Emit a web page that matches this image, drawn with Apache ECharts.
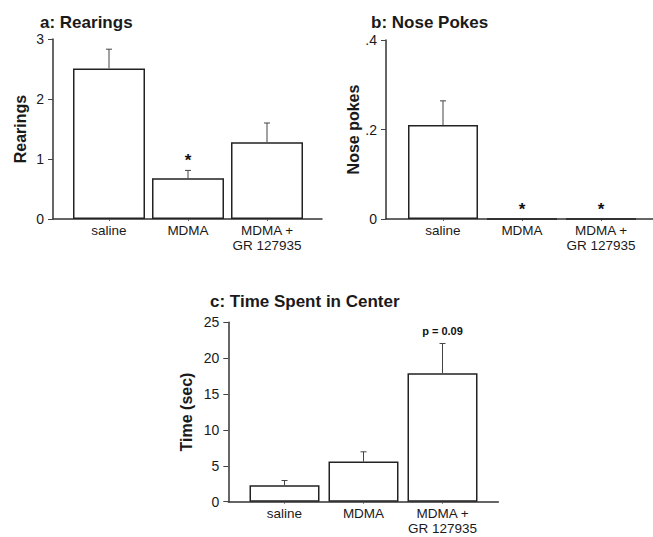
<!DOCTYPE html>
<html>
<head>
<meta charset="utf-8">
<script src="https://cdn.jsdelivr.net/npm/echarts@6/dist/echarts.min.js"></script>
<style>
html,body{margin:0;padding:0;background:#fff;}
#c{width:653px;height:537px;}
</style>
</head>
<body>
<div id="c"></div>
<script>
// ---- data ----
const categories = ['saline', 'MDMA', 'MDMA +\nGR 127935'];

const rearingsMean = [2.51, 0.68, 1.28];
const rearingsErr = [0.32, 0.13, 0.32];
const rearingsMarks = ['', '*', ''];
const rearingsTicks = [0, 1, 2, 3];

const nosePokesMean = [0.21, 0, 0];
const nosePokesErr = [0.054, 0, 0];
const nosePokesMarks = ['', '*', '*'];
const nosePokesTicks = [0, 0.2, 0.4];

const timeMean = [2.3, 5.6, 17.9];
const timeErr = [0.65, 1.35, 4.15];
const timeMarks = ['', '', 'p = 0.09'];
const timeTicks = [0, 5, 10, 15, 20, 25];

// ---- layout ----
const W = 653, H = 537;
const panels = [
  { title: 'a: Rearings', titleLeft: 35, titleTop: 9, axisX: 53, firstCenter: 109, top: 39, base: 219, lineEnd: 322,
    mean: rearingsMean, err: rearingsErr, marks: rearingsMarks, ticks: rearingsTicks, name: 'Rearings', nameGap: 25,
    fmt: v => String(v), barWidth: 72 },
  { title: 'b: Nose Pokes', titleLeft: 366, titleTop: 9, axisX: 386, firstCenter: 443, top: 40, base: 219, lineEnd: 653,
    mean: nosePokesMean, err: nosePokesErr, marks: nosePokesMarks, ticks: nosePokesTicks, name: 'Nose pokes', nameGap: 25,
    fmt: v => (v === 0 ? '0' : String(v).replace(/^0/, '')), barWidth: 70 },
  { title: 'c: Time Spent in Center', titleLeft: 205, titleTop: 288, axisX: 228.3, firstCenter: 284.5, top: 322.3, base: 501.7, lineEnd: 498.3,
    mean: timeMean, err: timeErr, marks: timeMarks, ticks: timeTicks, name: 'Time (sec)', nameGap: 34,
    fmt: v => String(v), barWidth: 70 }
];
const band = 79;

const option = { animation: false, backgroundColor: '#fff', title: [], grid: [], xAxis: [], yAxis: [], series: [] };
const txt = '#1a1a1a';
const ff = '"Liberation Sans", Arial, sans-serif';

panels.forEach((p, i) => {
  const barLeft = p.firstCenter - band / 2;
  const barRight = barLeft + band * 3;
  const gBar = i * 2, gFrame = i * 2 + 1;
  option.title.push({ text: p.title, left: p.titleLeft, top: p.titleTop,
    textStyle: { fontFamily: ff, fontWeight: 'bold', fontSize: 17, color: txt } });
  // bar grid
  option.grid.push({ left: barLeft, right: W - barRight, top: p.top, bottom: H - p.base, containLabel: false });
  // frame grid (for the baseline extending beyond bars)
  option.grid.push({ left: p.axisX, right: W - p.lineEnd, top: p.top, bottom: H - p.base, containLabel: false });
  const maxV = p.ticks[p.ticks.length - 1];
  option.xAxis.push({
    type: 'category', gridIndex: gBar, data: categories,
    axisLine: { show: false },
    axisTick: { show: true, alignWithLabel: true, length: 2, lineStyle: { color: '#555', width: 1 } },
    axisLabel: { color: txt, fontFamily: ff, fontSize: 13.5, margin: 4, lineHeight: 15, interval: 0 },
    splitLine: { show: false }
  });
  option.xAxis.push({
    type: 'value', gridIndex: gFrame, min: 0, max: 1,
    axisLine: { show: true, onZero: false, lineStyle: { color: '#333', width: 1.5 } },
    axisTick: { show: false }, axisLabel: { show: false }, splitLine: { show: false }
  });
  option.yAxis.push({
    type: 'value', gridIndex: gBar, min: 0, max: maxV, interval: p.ticks[1] - p.ticks[0],
    offset: barLeft - p.axisX,
    name: p.name, nameLocation: 'middle', nameGap: p.nameGap, nameRotate: 90,
    nameTextStyle: { fontFamily: ff, fontWeight: 'bold', fontSize: 16, color: txt },
    axisLine: { show: true, lineStyle: { color: '#333', width: 1.5 } },
    axisTick: { show: true, length: 5, lineStyle: { color: '#444', width: 1 } },
    axisLabel: { color: txt, fontFamily: ff, fontSize: 14, margin: 9, formatter: p.fmt },
    splitLine: { show: false }
  });
  option.yAxis.push({ type: 'value', gridIndex: gFrame, min: 0, max: 1, show: false });

  option.series.push({
    type: 'bar', xAxisIndex: gBar, yAxisIndex: gBar, data: p.mean, barWidth: p.barWidth,
    itemStyle: { color: '#fff', borderColor: '#222', borderWidth: 1.5 }, z: 2
  });
  const errData = p.mean.map((m, k) => [k, m, m + p.err[k]]);
  const marks = p.marks;
  const isP = (s) => s.length > 1;
  option.series.push({
    type: 'custom', xAxisIndex: gBar, yAxisIndex: gBar, data: errData, z: 5,
    encode: { x: 0, y: [1, 2] },
    renderItem: function (params, api) {
      const lo = api.coord([api.value(0), api.value(1)]);
      const hi = api.coord([api.value(0), api.value(2)]);
      const children = [];
      if (hi[1] < lo[1] - 0.5) {
        children.push({ type: 'line', shape: { x1: lo[0], y1: lo[1], x2: hi[0], y2: hi[1] }, style: { stroke: '#444', lineWidth: 1 } });
        children.push({ type: 'line', shape: { x1: hi[0] - 3, y1: hi[1], x2: hi[0] + 3, y2: hi[1] }, style: { stroke: '#444', lineWidth: 1 } });
      }
      const m = marks[params.dataIndex];
      if (m) {
        const pLabel = isP(m);
        children.push({ type: 'text', x: hi[0], y: hi[1] - (pLabel ? 12 : 10),
          style: { text: m, fill: '#111', textAlign: 'center', textVerticalAlign: 'middle',
            font: pLabel ? ('bold 11px ' + ff) : ('bold 17px ' + ff) } });
      }
      return { type: 'group', children: children };
    }
  });
});

const chart = echarts.init(document.getElementById('c'), null, { renderer: 'svg' });
chart.setOption(option);
</script>
</body>
</html>
